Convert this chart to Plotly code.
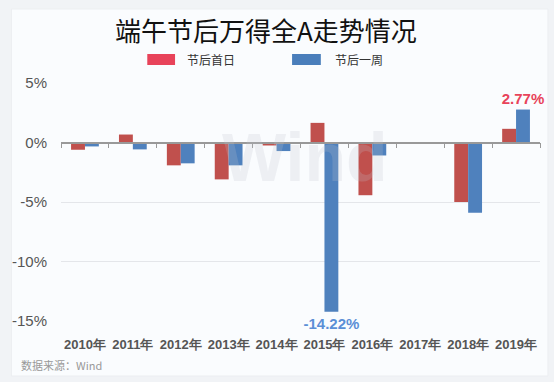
import plotly.graph_objects as go

years = ["2010年", "2011年", "2012年", "2013年", "2014年", "2015年", "2016年", "2017年", "2018年", "2019年"]
first_day = [-0.61, 0.67, -1.92, -3.10, -0.25, 1.65, -4.43, 0.0, -5.00, 1.15]
first_week = [-0.33, -0.58, -1.75, -1.92, -0.72, -14.22, -1.09, 0.0, -5.90, 2.77]
week_labels = ["", "", "", "", "", "-14.22%", "", "", "", "2.77%"]
week_label_colors = ["#5B8FD6"] * 9 + ["#E8435A"]
y_ticks = [5, 0, -5, -10, -15]
y_tick_text = ["5%", "0%", "-5%", "-10%", "-15%"]

W, H = 554, 382
L, R, T, B = 57, 14, 83, 61
PW, PH = W - L - R, H - T - B


def px(x):
    return (x - L) / PW


def py(y):
    return (H - B - y) / PH


fig = go.Figure()
fig.add_trace(go.Bar(x=years, y=first_day, name="节后首日", marker_color="#C0504D",
                     marker_line_width=0, showlegend=False))
fig.add_trace(go.Bar(x=years, y=first_week, name="节后一周", marker_color="#4F81BD",
                     marker_line_width=0, showlegend=False,
                     text=week_labels, textposition="outside", constraintext="none",
                     textfont=dict(family="Liberation Sans", size=15, color=week_label_colors,
                                   weight="bold"),
                     cliponaxis=False))
# invisible trace so the zero axis shows boundary ticks
fig.add_trace(go.Bar(x=years, y=[None] * len(years), xaxis="x2", showlegend=False,
                     hoverinfo="skip"))

fig.update_layout(
    width=W, height=H,
    margin=dict(l=L, r=R, t=T, b=B),
    paper_bgcolor="#F1F3F6",
    plot_bgcolor="rgba(0,0,0,0)",
    barmode="group", bargap=0.42, bargroupgap=0,
    font=dict(family="Noto Sans CJK SC", color="#555555"),
    xaxis=dict(type="category", showgrid=False, showline=False, ticks="",
               tickfont=dict(family="Liberation Sans", size=13, color="#555555", weight="bold"),
               ticklabelstandoff=14),
    xaxis2=dict(type="category", overlaying="x", anchor="free", position=0.75,
                showgrid=False, showline=True, linecolor="#999999", linewidth=1.5,
                ticks="outside", tickson="boundaries", ticklen=5, tickcolor="#999999",
                showticklabels=False, matches="x"),
    yaxis=dict(range=[-15, 5], tickvals=y_ticks, ticktext=y_tick_text,
               showgrid=True, gridcolor="#E4E6EA", gridwidth=1,
               zeroline=False, showline=False,
               tickfont=dict(family="Liberation Sans", size=15, color="#555555"),
               ticklabelstandoff=13),
    shapes=[
        dict(type="rect", xref="paper", yref="paper",
             x0=px(7), x1=px(548), y0=py(376), y1=py(9),
             fillcolor="#FAFCFE", line=dict(color="#ECEEF1", width=1), layer="below"),
        dict(type="rect", xref="paper", yref="paper",
             x0=px(144), x1=px(172), y0=py(65), y1=py(54),
             fillcolor="#E8435A", line=dict(width=0)),
        dict(type="rect", xref="paper", yref="paper",
             x0=px(290), x1=px(319), y0=py(65), y1=py(54),
             fillcolor="#4A7EBB", line=dict(width=0)),
    ],
    annotations=[
        dict(text="端午节后万得全A走势情况", xref="paper", yref="paper",
             x=px(264), y=py(30), showarrow=False, xanchor="center", yanchor="middle",
             font=dict(family="Noto Sans CJK SC", size=26, color="#111111")),
        dict(text="节后首日", xref="paper", yref="paper",
             x=px(182), y=py(60), showarrow=False, xanchor="left", yanchor="middle",
             font=dict(family="Noto Sans CJK SC", size=12, color="#333333")),
        dict(text="节后一周", xref="paper", yref="paper",
             x=px(331), y=py(60), showarrow=False, xanchor="left", yanchor="middle",
             font=dict(family="Noto Sans CJK SC", size=12, color="#333333")),
        dict(text="数据来源：Wind", xref="paper", yref="paper",
             x=px(15), y=py(365), showarrow=False, xanchor="left", yanchor="middle",
             font=dict(family="Noto Sans CJK SC", size=11, color="#999999")),
        dict(text="<b>Wind</b>", xref="paper", yref="paper",
             x=px(303), y=py(157), showarrow=False, xanchor="center", yanchor="middle",
             font=dict(family="Liberation Sans", size=68, color="rgba(190,195,205,0.22)")),
    ],
)

fig.write_html("out.html", config={"displayModeBar": False})

with open("out.html", encoding="utf-8") as f:
    html = f.read()
html = html.replace("<head>", "<head><style>html,body{margin:0;padding:0;overflow:hidden;}</style>", 1)
with open("out.html", "w", encoding="utf-8") as f:
    f.write(html)
